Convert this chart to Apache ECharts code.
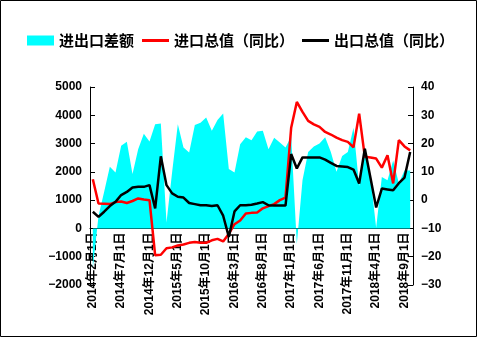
<!DOCTYPE html>
<html>
<head>
<meta charset="utf-8">
<script src="https://cdn.jsdelivr.net/npm/echarts@6/dist/echarts.min.js"></script>
<style>
html,body{margin:0;padding:0;background:#fff;}
#c{width:478px;height:338px;}
</style>
</head>
<body>
<div id="c"></div>
<script>
const categories = [
"2014年2月1日","2014年3月1日","2014年4月1日","2014年5月1日","2014年6月1日","2014年7月1日","2014年8月1日","2014年9月1日","2014年10月1日","2014年11月1日","2014年12月1日",
"2015年1月1日","2015年2月1日","2015年3月1日","2015年4月1日","2015年5月1日","2015年6月1日","2015年7月1日","2015年8月1日","2015年9月1日","2015年10月1日","2015年11月1日","2015年12月1日",
"2016年1月1日","2016年2月1日","2016年3月1日","2016年4月1日","2016年5月1日","2016年6月1日","2016年7月1日","2016年8月1日","2016年9月1日","2016年10月1日","2016年11月1日","2016年12月1日",
"2017年1月1日","2017年2月1日","2017年3月1日","2017年4月1日","2017年5月1日","2017年6月1日","2017年7月1日","2017年8月1日","2017年9月1日","2017年10月1日","2017年11月1日","2017年12月1日",
"2018年1月1日","2018年2月1日","2018年3月1日","2018年4月1日","2018年5月1日","2018年6月1日","2018年7月1日","2018年8月1日","2018年9月1日","2018年10月1日"
];
const balance = [
-1400,440,1300,2180,1980,2920,3060,1920,2800,3350,
3070,3680,3710,210,2000,3680,2860,2680,3660,3740,
3920,3450,3830,4060,2100,1980,2980,3220,3120,3430,
3450,2800,3210,3040,2860,3250,-550,1700,2700,2900,
3000,3220,2700,2000,2560,2700,3560,1500,2900,1800,
20,1820,1700,2400,1600,2050,2050
];
const importsYoY = [
7.4,-1.2,-1.3,-1.4,-0.7,-0.5,-1.0,-0.3,0.6,0.2,
0.0,-19.5,-19.3,-17.0,-16.7,-16.0,-15.7,-15.1,-14.8,-15.1,
-15.1,-14.2,-13.7,-14.6,-11.9,-8.5,-7.2,-4.7,-4.5,-4.4,
-2.9,-2.1,-1.4,0.0,0.9,25.6,34.7,31.2,28.0,26.8,
25.9,24.1,23.2,22.1,21.2,20.6,18.7,30.6,15.3,15.1,
14.7,11.5,15.9,5.9,21.2,19.0,17.6
];
const exportsYoY = [
-4.1,-5.9,-4.1,-2.1,-0.6,1.8,2.9,4.5,4.7,4.7,
5.3,-2.9,15.5,5.3,2.4,1.2,0.9,-1.0,-1.4,-1.8,
-1.8,-2.1,-1.8,-5.5,-13.0,-4.0,-1.8,-1.8,-1.6,-1.2,
-0.7,-1.8,-1.9,-1.9,-1.9,16.3,11.2,15.1,15.1,15.1,
15.1,14.3,13.2,12.1,11.9,11.7,10.8,5.9,18.2,7.8,
-2.6,4.1,3.8,3.5,6.0,8.0,17.0
];
const seriesNames = ["进出口差额","进口总值（同比）","出口总值（同比）"];
const leftTicks = {min: -2000, max: 5000, interval: 1000};
const rightTicks = {min: -30, max: 40, interval: 10};

const FONT = '"Liberation Sans", Arial, "Noto Sans CJK SC", sans-serif';
const minus = v => String(v).replace('-', '−');
const LINE_ICON = 'path://M0,0 L1,0 L1,0.001 L0,0.001 Z M0,0.35 L1,0.35 L1,0.65 L0,0.65 Z M0,0.999 L1,0.999 L1,1 L0,1 Z';

const PLOT_TOP = 87, PLOT_BOTTOM = 53, PLOT_LEFT = 90, PLOT_RIGHT = 65;
const plotH = 338 - PLOT_TOP - PLOT_BOTTOM;
// y position (from top) of the left-axis zero line: the x axis sits there
const zeroTop = PLOT_TOP + plotH * (leftTicks.max / (leftTicks.max - leftTicks.min));

const chart = echarts.init(document.getElementById('c'), null, {renderer:'canvas'});
chart.setOption({
  animation: false,
  backgroundColor: '#fff',
  graphic: [{
    type: 'rect', silent: true, z: 100,
    shape: {x: 0.5, y: 0.5, width: 476, height: 336},
    style: {fill: null, stroke: '#000', lineWidth: 1}
  }],
  legend: {
    left: 27, top: 33, padding: 0,
    itemWidth: 27, itemHeight: 10, itemGap: 8,
    symbolKeepAspect: false,
    selectedMode: false,
    textStyle: {fontFamily: '"Noto Sans CJK SC", sans-serif', fontWeight: 'bold', fontSize: 15, color: '#000'},
    data: [
      {name: seriesNames[0], icon: 'rect'},
      {name: seriesNames[1], icon: LINE_ICON},
      {name: seriesNames[2], icon: LINE_ICON}
    ]
  },
  grid: [
    {left: PLOT_LEFT, right: PLOT_RIGHT, top: PLOT_TOP, bottom: PLOT_BOTTOM, containLabel: false, outerBoundsMode: 'none'},
    {left: PLOT_LEFT, right: PLOT_RIGHT, top: PLOT_TOP, height: zeroTop - PLOT_TOP, containLabel: false, outerBoundsMode: 'none'}
  ],
  xAxis: [{
    type: 'category', gridIndex: 0,
    data: categories, boundaryGap: true, show: false
  }, {
    type: 'category', gridIndex: 1,
    data: categories, boundaryGap: true, position: 'bottom',
    axisLine: {onZero: false, lineStyle: {color: '#000', width: 1}},
    axisTick: {inside: true, length: 4, interval: 4, lineStyle: {color: '#000'}},
    axisLabel: {
      interval: 4, rotate: 90, margin: 4, overflow: 'none',
      fontFamily: FONT, fontWeight: 'bold', fontSize: 12, color: '#000'
    }
  }],
  yAxis: [{
    type: 'value', gridIndex: 0, min: leftTicks.min, max: leftTicks.max, interval: leftTicks.interval,
    axisLine: {show: true, lineStyle: {color: '#000'}},
    axisTick: {show: true, inside: true, length: 5, lineStyle: {color: '#000'}},
    splitLine: {show: false},
    axisLabel: {margin: 8, fontFamily: FONT, fontWeight: 'bold', fontSize: 12, color: '#000', formatter: minus}
  }, {
    type: 'value', gridIndex: 0, min: rightTicks.min, max: rightTicks.max, interval: rightTicks.interval,
    position: 'right',
    axisLine: {show: true, lineStyle: {color: '#000'}},
    axisTick: {show: true, inside: true, length: 5, lineStyle: {color: '#000'}},
    splitLine: {show: false},
    axisLabel: {margin: 8, fontFamily: FONT, fontWeight: 'bold', fontSize: 12, color: '#000', formatter: minus}
  }, {
    type: 'value', gridIndex: 1, min: 0, max: 1, show: false, splitLine: {show: false}
  }],
  series: [{
    name: seriesNames[0], type: 'line', xAxisIndex: 0, yAxisIndex: 0,
    data: balance, showSymbol: false, symbol: 'none',
    color: '#00FFFF',
    lineStyle: {width: 0, color: '#00FFFF'},
    areaStyle: {color: '#00FFFF', opacity: 1},
    z: 1
  }, {
    name: seriesNames[1], type: 'line', xAxisIndex: 0, yAxisIndex: 1,
    data: importsYoY, showSymbol: false, symbol: 'none',
    color: '#FF0000',
    lineStyle: {width: 2.5, color: '#FF0000'},
    z: 3
  }, {
    name: seriesNames[2], type: 'line', xAxisIndex: 0, yAxisIndex: 1,
    data: exportsYoY, showSymbol: false, symbol: 'none',
    color: '#000000',
    lineStyle: {width: 2.5, color: '#000000'},
    z: 4
  }]
});
</script>
</body>
</html>
